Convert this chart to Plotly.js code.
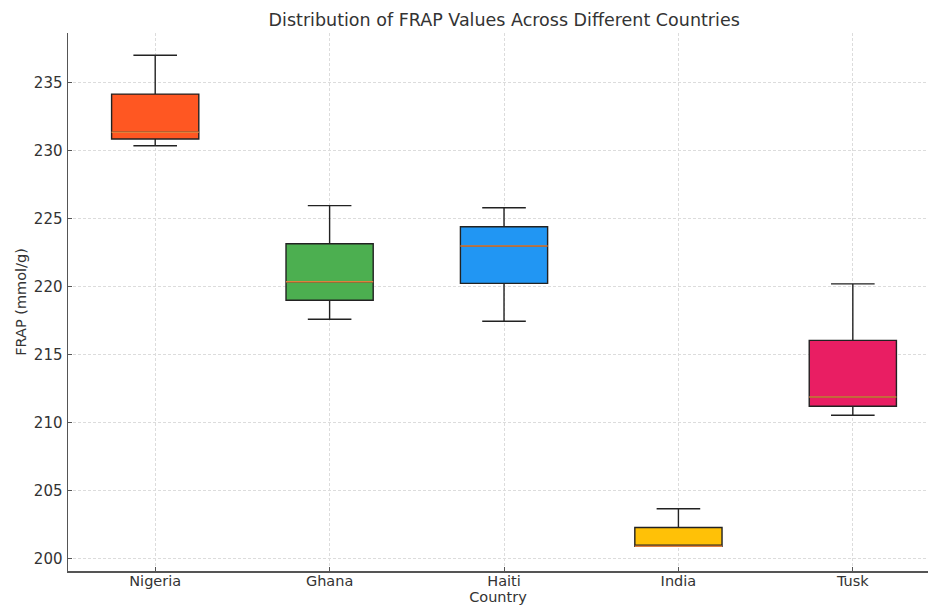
<!DOCTYPE html>
<html>
<head>
<meta charset="utf-8">
<script src="https://cdn.plot.ly/plotly-3.0.1.min.js"></script>
<style>html,body{margin:0;padding:0;background:#fff;}#chart{width:928px;height:607px;}</style>
</head>
<body>
<div id="chart"></div>
<script>
const countries = ["Nigeria", "Ghana", "Haiti", "India", "Tusk"];
const lowerWhisker = [230.35, 217.6, 217.46, 200.92, 210.55];
const q1Values = [230.85, 219.0, 220.24, 200.92, 211.21];
const medianValues = [231.35, 220.35, 222.98, 200.92, 211.88];
const q3Values = [234.15, 223.15, 224.4, 202.3, 216.05];
const upperWhisker = [237.0, 225.95, 225.8, 203.68, 220.2];
const boxColors = ["#FF5722", "#4CAF50", "#2196F3", "#FFC107", "#E91E63"];
const yTicks = [200, 205, 210, 215, 220, 225, 230, 235];

const positions = countries.map((c, i) => i + 1);
const boxWidth = 0.5;

const traces = countries.map((c, i) => ({
  type: "box",
  name: c,
  x: [positions[i]],
  q1: [q1Values[i]],
  median: [medianValues[i]],
  q3: [q3Values[i]],
  lowerfence: [lowerWhisker[i]],
  upperfence: [upperWhisker[i]],
  width: boxWidth,
  whiskerwidth: 0.5,
  fillcolor: boxColors[i],
  line: {color: "#222222", width: 1.4},
  hoverinfo: "skip",
  showlegend: false
}));

const mx = [], my = [];
positions.forEach((p, i) => {
  mx.push(p - boxWidth / 2, p + boxWidth / 2, null);
  my.push(medianValues[i], medianValues[i], null);
});
traces.push({
  type: "scatter", mode: "lines", x: mx, y: my,
  line: {color: "#e0803c", width: 1.5},
  hoverinfo: "skip", showlegend: false
});

const layout = {
  width: 928, height: 607,
  margin: {l: 68, r: 0, t: 33, b: 36, pad: 0},
  paper_bgcolor: "#ffffff", plot_bgcolor: "#ffffff",
  font: {family: "DejaVu Sans, sans-serif", size: 14, color: "#333333"},
  title: {text: "Distribution of FRAP Values Across Different Countries",
          font: {size: 17.5, color: "#333333"}, x: 0.5433, xanchor: "center", y: 0.967, yanchor: "middle"},
  xaxis: {
    range: [0.5, 5.431], tickmode: "array", tickvals: positions, ticktext: countries,
    showgrid: true, gridcolor: "#dcdcdc", griddash: "3px,2px", gridwidth: 1,
    showline: true, linecolor: "#555555", linewidth: 1.5,
    ticks: "inside", ticklen: 4, tickcolor: "#555555",
    zeroline: false, automargin: false,
    tickfont: {size: 14.5, color: "#333333"},
    ticklabelstandoff: -4,
    title: {text: "Country", font: {size: 14.5, color: "#333333"}, standoff: 0}
  },
  yaxis: {
    range: [199.1, 238.64], tickmode: "array", tickvals: yTicks,
    showgrid: true, gridcolor: "#dcdcdc", griddash: "3px,2px", gridwidth: 1,
    showline: true, linecolor: "#555555", linewidth: 1.5,
    ticks: "inside", ticklen: 4, tickcolor: "#555555",
    zeroline: false, automargin: false,
    tickfont: {size: 15, color: "#333333"},
    ticklabelstandoff: 1,
    title: {text: "FRAP (mmol/g)", font: {size: 14.5, color: "#333333"}, standoff: 4}
  },
  showlegend: false,
  hovermode: false
};

Plotly.newPlot("chart", traces, layout, {displayModeBar: false, staticPlot: true});
</script>
</body>
</html>
